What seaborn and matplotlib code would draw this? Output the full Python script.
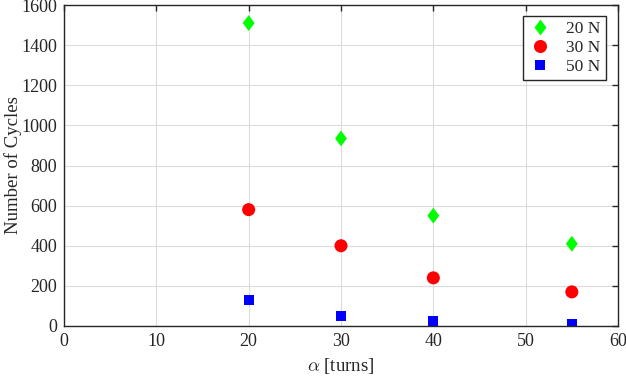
import numpy as np
import pandas as pd
import seaborn as sns
from matplotlib import pyplot as plt

# data
alpha = [20, 30, 40, 55]
cycles_20N = [1510, 935, 550, 410]
cycles_30N = [580, 400, 240, 170]
cycles_50N = [130, 50, 25, 10]
loads = ["20 N", "30 N", "50 N"]

df = pd.DataFrame({
    "alpha": alpha * 3,
    "cycles": cycles_20N + cycles_30N + cycles_50N,
    "load": [loads[0]] * 4 + [loads[1]] * 4 + [loads[2]] * 4,
})

sns.set_style("whitegrid")
plt.rcParams["font.family"] = ["Liberation Serif", "DejaVu Serif"]
plt.rcParams["mathtext.fontset"] = "cm"

fig = plt.figure(figsize=(6.26, 3.76), dpi=100)
ax = fig.add_axes([64 / 626, 50 / 376, 554 / 626, 321 / 376])

# matlab style diamond (wider than matplotlib's thin 'd')
diamond = [(0, 1), (0.75, 0), (0, -1), (-0.75, 0), (0, 1)]

sns.scatterplot(data=df, x="alpha", y="cycles", hue="load", style="load",
                size="load",
                palette={"20 N": "#00ff00", "30 N": "#ff0000", "50 N": "#0000ff"},
                markers={"20 N": diamond, "30 N": "o", "50 N": "s"},
                sizes={"20 N": 130, "30 N": 88, "50 N": 55},
                linewidth=0, ax=ax)

ax.set_xlim(0, 60)
ax.set_ylim(0, 1600)
ax.set_xticks(np.arange(0, 61, 10))
ax.set_yticks(np.arange(0, 1601, 200))
ax.grid(True, color="#dcdcdc", linewidth=0.8)
for sp in ax.spines.values():
    sp.set_color("#262626")
    sp.set_linewidth(1.0)
ax.tick_params(direction="in", top=True, right=True, length=4, width=1,
               color="#262626", labelsize=13, labelcolor="#262626", pad=5)
ax.set_xlabel(r"$\alpha$ [turns]", fontsize=13.5, color="#262626", labelpad=4)
ax.set_ylabel("Number of Cycles", fontsize=13.5, color="#262626")
ax.yaxis.set_label_coords(-42 / 554, 0.5)

leg = ax.legend(loc="upper right", bbox_to_anchor=(1 - 12 / 554, 1 - 11 / 321),
                borderaxespad=0, fontsize=12.5, frameon=True, fancybox=False,
                edgecolor="#262626", framealpha=1, handletextpad=0.9,
                labelspacing=0.15, borderpad=0.3, handlelength=1.3)
leg.get_frame().set_linewidth(1.0)

fig.savefig("out.png", dpi=100)
